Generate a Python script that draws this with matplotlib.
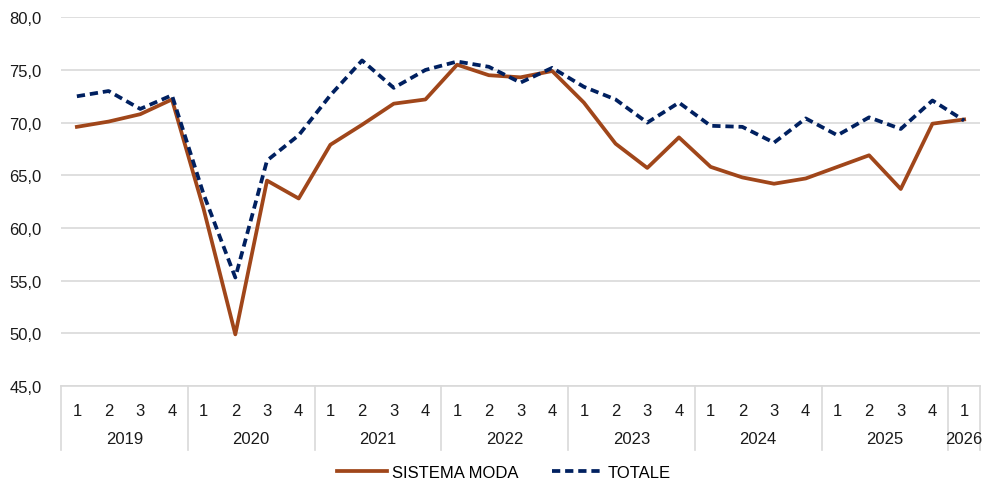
import matplotlib.pyplot as plt
import numpy as np

plt.rcParams['font.family'] = ['Liberation Sans', 'DejaVu Sans']

years = ["2019", "2020", "2021", "2022", "2023", "2024", "2025", "2026"]
quarters = ["1", "2", "3", "4"] * 7 + ["1"]

sistema_moda = [69.6, 70.1, 70.8, 72.2,
                61.8, 49.9, 64.5, 62.8,
                67.9, 69.8, 71.8, 72.2,
                75.5, 74.5, 74.3, 74.9,
                71.9, 68.0, 65.7, 68.6,
                65.8, 64.8, 64.2, 64.7,
                65.8, 66.9, 63.7, 69.9,
                70.3]
totale = [72.5, 73.0, 71.3, 72.6,
          63.2, 55.3, 66.4, 68.8,
          72.6, 75.9, 73.3, 75.0,
          75.8, 75.3, 73.8, 75.2,
          73.4, 72.2, 70.0, 71.9,
          69.7, 69.6, 68.1, 70.4,
          68.8, 70.5, 69.4, 72.1,
          70.2]

x = np.arange(len(quarters))
fs = 12

fig = plt.figure(figsize=(9.86, 4.81), dpi=100)
ax = fig.add_axes([0.0619, 0.1954, 0.932, 0.7666])

ax.plot(x, sistema_moda, color="#A0461A", linewidth=2.7, label="SISTEMA MODA")
ax.plot(x, totale, color="#002060", linewidth=2.7, linestyle=(0, (2.2, 1.3)), label="TOTALE")

ax.set_ylim(45, 80)
ax.set_xlim(-0.5, len(quarters) - 0.5)
yt = np.arange(45, 81, 5)
ax.set_yticks(yt)
ax.set_yticklabels([f"{v:.1f}".replace(".", ",") for v in yt], fontsize=fs, color="#1a1a1a")
ax.tick_params(axis="y", length=0, pad=14)
ax.grid(axis="y", color="#D9D9D9", linewidth=1.2)
ax.set_axisbelow(True)

for s in ["top", "right", "left"]:
    ax.spines[s].set_visible(False)
ax.spines["bottom"].set_color("#D9D9D9")
ax.spines["bottom"].set_linewidth(1.2)

ax.set_xticks(x)
ax.set_xticklabels(quarters, fontsize=fs, color="#1a1a1a")
ax.tick_params(axis="x", length=0, pad=12)

# year labels and separators of the two-level category axis
trans = ax.get_xaxis_transform()
bounds = list(range(0, len(quarters), 4)) + [len(quarters)]
for b in bounds:
    ax.plot([b - 0.5, b - 0.5], [0, -0.174], transform=trans, color="#D9D9D9",
            linewidth=1.2, clip_on=False)
for i, yr in enumerate(years):
    start = i * 4
    end = min(start + 4, len(quarters))
    ax.text((start + end - 1) / 2, -0.142, yr, transform=trans, ha="center", va="center",
            fontsize=fs, color="#1a1a1a")

fig.legend(loc="center", bbox_to_anchor=(0.511, 0.015), ncol=2, frameon=False,
           fontsize=fs, handlelength=3.0, columnspacing=2.0, handletextpad=0.3)

fig.savefig("out.png", dpi=100)
